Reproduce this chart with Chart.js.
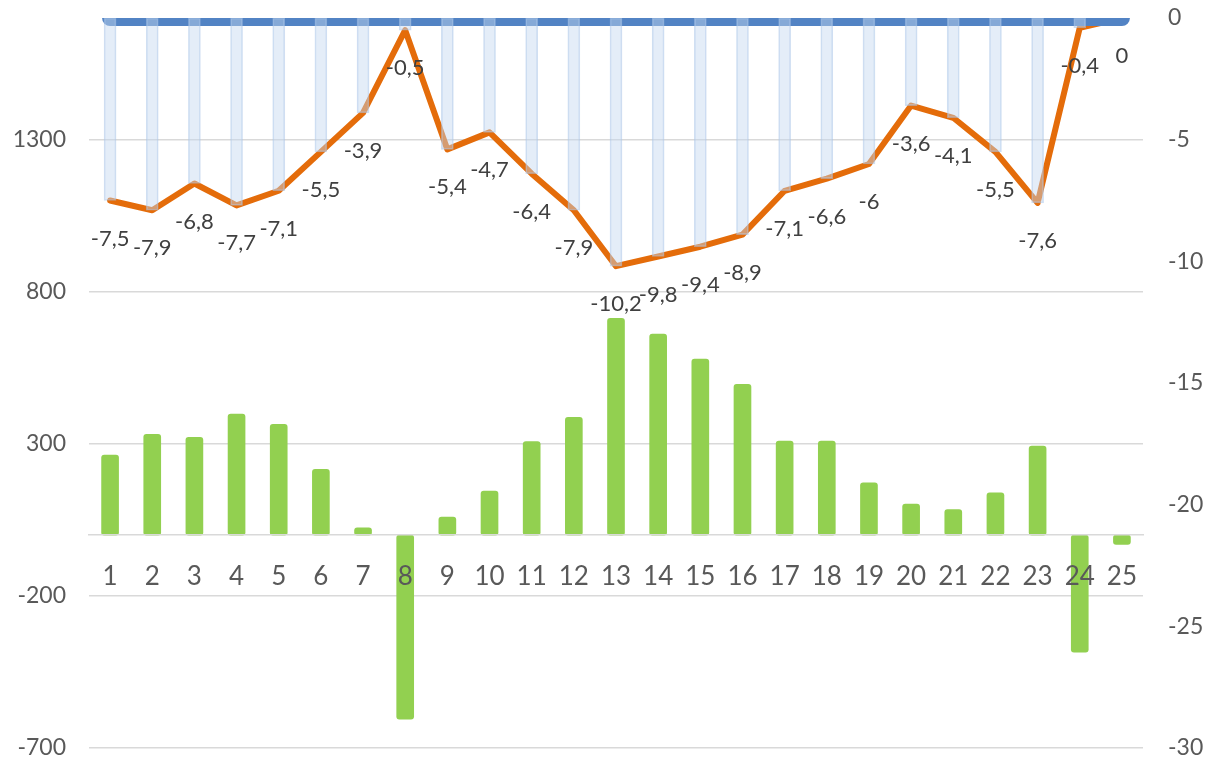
<!DOCTYPE html>
<html>
<head>
<meta charset="utf-8">
<script src="https://cdn.jsdelivr.net/npm/chart.js@4.4.1/dist/chart.umd.min.js"></script>
<style>
    html, body { margin: 0; padding: 0; background: #ffffff; }
    #wrap { width: 1208px; height: 758px; position: relative; }
</style>
</head>
<body>
<div id="wrap"><canvas id="chart"></canvas></div>
<script>
var categories = ['1','2','3','4','5','6','7','8','9','10','11','12','13','14','15','16','17','18','19','20','21','22','23','24','25'];
// bars, left axis
var barValues = [263, 331, 321, 398, 364, 216, 24, -605, 59, 145, 307, 387, 713, 661, 579, 496, 309, 309, 172, 102, 84, 139, 293, -385, -31];
// line, right axis
var lineValues = [-7.5, -7.9, -6.8, -7.7, -7.1, -5.5, -3.9, -0.5, -5.4, -4.7, -6.4, -7.9, -10.2, -9.8, -9.4, -8.9, -7.1, -6.6, -6, -3.6, -4.1, -5.5, -7.6, -0.4, 0];
var baseValues = [0,0,0,0,0,0,0,0,0,0,0,0,0,0,0,0,0,0,0,0,0,0,0,0,0];
var leftTicks = [-700, -200, 300, 800, 1300];
var rightTicks = [-30, -25, -20, -15, -10, -5, 0];

// high-low style drops between the zero line and the orange line
var dropValues = lineValues.map(function (v, i) { return [baseValues[i], v]; });

function noPad(scale) {
    scale.paddingTop = 0;
    scale.paddingBottom = 0;
    scale.paddingLeft = 0;
    scale.paddingRight = 0;
}

var lineLabels = {
    id: 'lineLabels',
    afterDatasetsDraw: function (chart) {
        var meta = chart.getDatasetMeta(2);
        var ctx = chart.ctx;
        ctx.save();
        ctx.font = '22px Lato';
        ctx.fillStyle = '#404040';
        ctx.textAlign = 'center';
        ctx.textBaseline = 'middle';
        meta.data.forEach(function (pt, i) {
            var txt = String(lineValues[i]).replace('.', ',');
            ctx.fillText(txt, pt.x, pt.y + 38);
        });
        ctx.restore();
    }
};

var ctx = document.getElementById('chart').getContext('2d');
var chart = new Chart(ctx, {
    type: 'bar',
    data: {
        labels: categories,
        datasets: [{
            type: 'bar',
            data: dropValues,
            yAxisID: 'y1',
            grouped: false,
            barThickness: 12,
            backgroundColor: 'rgba(196,214,240,0.45)',
            borderColor: 'rgba(170,196,232,0.55)',
            borderWidth: 1,
            borderSkipped: false,
            order: 0
        }, {
            type: 'line',
            data: baseValues,
            yAxisID: 'y1',
            borderColor: '#5283c4',
            borderWidth: 16,
            borderCapStyle: 'round',
            pointRadius: 0,
            clip: {left: 30, top: 0, right: 30, bottom: 30},
            order: 1
        }, {
            type: 'line',
            data: lineValues,
            yAxisID: 'y1',
            borderColor: '#e46c0a',
            borderWidth: 6,
            borderJoinStyle: 'round',
            borderCapStyle: 'round',
            pointRadius: 0,
            tension: 0,
            clip: {left: 30, top: 0, right: 30, bottom: 30},
            order: 2
        }, {
            type: 'bar',
            data: barValues,
            yAxisID: 'y',
            grouped: false,
            barThickness: 17,
            backgroundColor: '#92d050',
            borderWidth: 0,
            borderRadius: 3,
            borderSkipped: false,
            order: 3
        }]
    },
    options: {
        responsive: true,
        maintainAspectRatio: false,
        animation: false,
        layout: { padding: { left: 0, right: 0, top: 18, bottom: 10 } },
        plugins: {
            legend: { display: false },
            tooltip: { enabled: false }
        },
        scales: {
            x: {
                position: { y: 0 },
                offset: true,
                afterFit: noPad,
                grid: { display: false, drawTicks: false },
                border: { display: true, color: '#d9d9d9', width: 1.5, z: 1 },
                ticks: { color: '#595959', font: { family: 'Lato', size: 26 }, padding: 26, maxRotation: 0, autoSkip: false, z: 1 }
            },
            y: {
                position: 'left',
                min: -700,
                max: 1700,
                afterFit: function (scale) { noPad(scale); scale.width = 89; },
                afterBuildTicks: function (scale) {
                    scale.ticks = leftTicks.map(function (v) { return { value: v }; });
                },
                grid: { color: '#d9d9d9', lineWidth: 1.5, drawTicks: false },
                border: { display: false },
                ticks: { color: '#595959', font: { family: 'Lato', size: 23 }, padding: 23,
                    callback: function (v) { return String(v); } }
            },
            y1: {
                position: 'right',
                min: -30,
                max: 0,
                afterFit: function (scale) { noPad(scale); scale.width = 65; },
                afterBuildTicks: function (scale) {
                    scale.ticks = rightTicks.map(function (v) { return { value: v }; });
                },
                grid: { display: false, drawTicks: false },
                border: { display: false },
                ticks: { color: '#595959', font: { family: 'Lato', size: 23 }, padding: 25,
                    callback: function (v) { return String(v); } }
            }
        }
    },
    plugins: [lineLabels]
});
</script>
</body>
</html>
